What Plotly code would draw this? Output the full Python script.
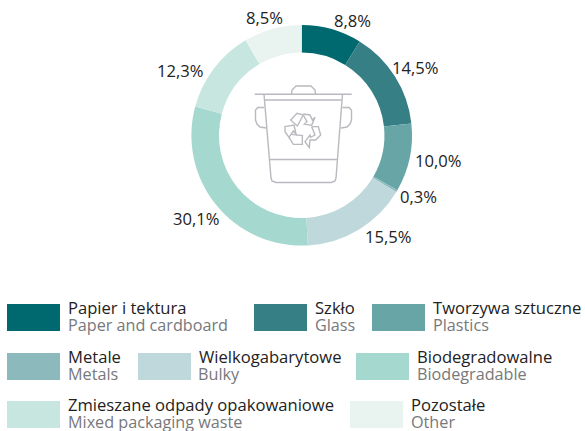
import plotly.graph_objects as go

W, H = 585, 431

categories_pl = ["Papier i tektura", "Szkło", "Tworzywa sztuczne", "Metale",
                 "Wielkogabarytowe", "Biodegradowalne",
                 "Zmieszane odpady opakowaniowe", "Pozostałe"]
categories_en = ["Paper and cardboard", "Glass", "Plastics", "Metals",
                 "Bulky", "Biodegradable", "Mixed packaging waste", "Other"]
shares = [8.8, 14.5, 10.0, 0.3, 15.5, 30.1, 12.3, 8.5]
colors = ["#00686f", "#367f85", "#67a5a7", "#8bb9bc",
          "#bfd8dc", "#a5d9cf", "#c7e6df", "#e9f4f1"]

label_x = [352, 415, 437.5, 418.6, 388, 196, 180, 264]
label_y = [20.7, 67.5, 161, 196.5, 236.5, 218, 70.5, 17.5]

swatch_x = [7, 254, 372, 7, 138, 356, 7, 350]
swatch_y = [304, 304, 304, 353, 353, 353, 401, 401]
SW, SH = 53, 27
FONT = "Open Sans"
ICON = "#b9b9bf"
CX, CY, R = 301.7, 135.3, 110.3


def px(x):
    return x / W


def py(y):
    return 1 - y / H


def path(points, close=False):
    d = "M" + " L".join(f"{px(x):.5f},{py(y):.5f}" for x, y in points)
    return d + (" Z" if close else "")


def zoomed(points):
    return [(170 + x / 3, y / 3) for x, y in points]


fig = go.Figure(go.Pie(
    labels=categories_pl,
    values=shares,
    hole=0.75,
    sort=False,
    direction="clockwise",
    rotation=0,
    marker=dict(colors=colors, line=dict(width=0)),
    textinfo="none",
    automargin=False,
    showlegend=False,
    domain=dict(x=[px(CX - R), px(CX + R)], y=[py(CY + R), py(CY - R)]),
))

shapes = []
annotations = []
for x, y, v in zip(label_x, label_y, shares):
    annotations.append(dict(text=f"{v:.1f}%".replace(".", ","), xref="paper", yref="paper",
                            x=px(x), y=py(y), xanchor="center", yanchor="middle",
                            showarrow=False, font=dict(family=FONT, size=16.6, color="#222222")))
for x, y, c, pl, en in zip(swatch_x, swatch_y, colors, categories_pl, categories_en):
    shapes.append(dict(type="rect", xref="paper", yref="paper",
                       x0=px(x), x1=px(x + SW), y0=py(y), y1=py(y + SH),
                       fillcolor=c, line_width=0, layer="above"))
    annotations.append(dict(text=pl, xref="paper", yref="paper",
                            x=px(x + SW + 5.5), y=py(y + 3.5), xanchor="left", yanchor="middle",
                            showarrow=False, font=dict(family=FONT, size=16.6, color="#222222")))
    annotations.append(dict(text=en, xref="paper", yref="paper",
                            x=px(x + SW + 5.5), y=py(y + 21), xanchor="left", yanchor="middle",
                            showarrow=False, font=dict(family=FONT, size=16.2, color="#77787b")))

# waste-bin pictogram, drawn as outlines
icon_paths = [
    path([(254.7, 94.3), (351.7, 94.3)]),
    path([(264, 94.3), (271, 178), (272, 181), (276, 182.5), (331, 182.5), (335, 181), (336, 178), (342.5, 94.3)]),
    path([(264.5, 100), (341.5, 100)]),
    path([(270, 159.5), (337, 159.5)]),
    path([(291.5, 94.3), (292, 90), (296, 86), (311, 86), (315, 90), (315.5, 94.3)]),
    path([(264, 107.5), (258, 107.5), (255.5, 110), (255.5, 120), (257, 124), (260, 127), (266, 128)]),
    path([(342.5, 107.5), (349, 107.5), (351.5, 110), (351.5, 120), (350, 124), (347, 127), (341, 128)]),
    # recycling arrows
    path(zoomed([(362, 360), (381, 340), (400, 345), (382, 378)]), True),
    path(zoomed([(400, 342), (420, 345), (427, 360), (435, 352), (425, 376), (403, 372), (411, 365), (400, 345)])),
    path(zoomed([(345, 380), (372, 375), (378, 402), (370, 393), (357, 412), (345, 395)]), True),
    path(zoomed([(365, 403), (397, 407), (397, 433), (370, 433), (357, 412)])),
    path(zoomed([(425, 380), (445, 380), (452, 405), (437, 420), (420, 420), (418, 443), (405, 425), (420, 405), (422, 412), (435, 405), (425, 380)])),
]
for d in icon_paths:
    shapes.append(dict(type="path", xref="paper", yref="paper", path=d,
                       line=dict(color=ICON, width=1.4), layer="above"))

fig.update_layout(
    width=W, height=H,
    margin=dict(l=0, r=0, t=0, b=0),
    paper_bgcolor="white",
    shapes=shapes,
    annotations=annotations,
)

fig.write_html("out.html", config={"displayModeBar": False},
               post_script="document.body.style.margin='0';")
